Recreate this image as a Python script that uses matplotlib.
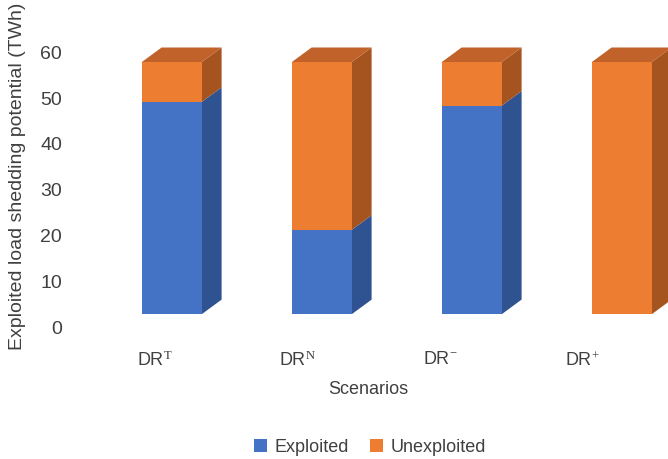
import matplotlib
matplotlib.use("Agg")
import matplotlib.pyplot as plt
from matplotlib.patches import Polygon
from matplotlib.transforms import ScaledTranslation
import numpy as np

plt.rcParams['font.family'] = ['Liberation Sans', 'DejaVu Sans']
plt.rcParams['mathtext.fontset'] = 'custom'
plt.rcParams['mathtext.rm'] = 'Liberation Serif'
plt.rcParams['mathtext.it'] = 'Liberation Serif:italic'

# Scenario data (TWh)
scenarios = [r"DR$^{\mathrm{T}}$", r"DR$^{\mathrm{N}}$", r"DR$^{-}$", r"DR$^{+}$"]
exploited = [46.3, 18.4, 45.5, 0.0]
unexploited = [8.7, 36.6, 9.5, 55.0]
series_names = ["Exploited", "Unexploited"]
y_ticks = [0, 10, 20, 30, 40, 50, 60]

front_colors = ["#4472C4", "#ED7D31"]
side_colors = ["#2F5290", "#A5531F"]
top_colors = ["#3A63AD", "#C0622A"]

W, H = 668, 459
fig = plt.figure(figsize=(W / 100, H / 100), dpi=100)
ax = fig.add_axes([80 / W, 1 - 330 / H, 588 / W, 310 / H])

x = np.arange(len(scenarios))
bar_w = 0.4
ax.set_xlim(-0.611, 3.309)
ax.set_ylim(-3.43, 64.2)

# depth of the pseudo-3D boxes, in data units
dx, dy = 0.133, 3.2

bottoms = np.zeros(len(x))
layers = [exploited, unexploited]
tops = np.array(exploited) + np.array(unexploited)
for k, vals in enumerate(layers):
    vals = np.array(vals)
    ax.bar(x, vals, bar_w, bottom=bottoms, color=front_colors[k],
           edgecolor='none', zorder=3, label=series_names[k])
    for xi, b, v in zip(x, bottoms, vals):
        if v <= 0:
            continue
        xr = xi + bar_w / 2
        side = Polygon([(xr, b), (xr + dx, b + dy), (xr + dx, b + v + dy), (xr, b + v)],
                       closed=True, facecolor=side_colors[k], edgecolor='none', zorder=2)
        ax.add_patch(side)
    bottoms = bottoms + vals

# top faces
for xi, t in zip(x, tops):
    xl, xr = xi - bar_w / 2, xi + bar_w / 2
    top = Polygon([(xl, t), (xl + dx, t + dy), (xr + dx, t + dy), (xr, t)],
                  closed=True, facecolor=top_colors[1], edgecolor='none', zorder=2)
    ax.add_patch(top)

for s in ax.spines.values():
    s.set_visible(False)

ax.set_yticks(y_ticks)
ax.set_yticklabels([str(v) for v in y_ticks], fontsize=14, color='#404040')
ax.tick_params(axis='y', length=0, pad=13)
shift = ScaledTranslation(0, -13 / 100, fig.dpi_scale_trans)
for lab in ax.get_yticklabels():
    lab.set_transform(lab.get_transform() + shift)

# category labels sit on the perspective floor line
ax.set_xticks(x * 0.95 - 0.11)
ax.set_xticklabels(scenarios, fontsize=13, color='#404040')
ax.tick_params(axis='x', length=0, pad=15)

fig.text(18 / W, 1 - 176 / H, "Exploited load shedding potential (TWh)",
         rotation=90, ha='center', va='center', fontsize=14, color='#404040')
fig.text(368 / W, 1 - 389 / H, "Scenarios", ha='center', va='center',
         fontsize=13, color='#404040')

handles, labels = ax.get_legend_handles_labels()
fig.legend(handles, labels, loc='center', bbox_to_anchor=(370 / W, 1 - 447 / H),
           ncol=2, frameon=False, fontsize=13, handlelength=0.7, handleheight=0.7,
           handletextpad=0.4, columnspacing=1.2, labelcolor='#404040')

fig.savefig("out.png", dpi=100)
